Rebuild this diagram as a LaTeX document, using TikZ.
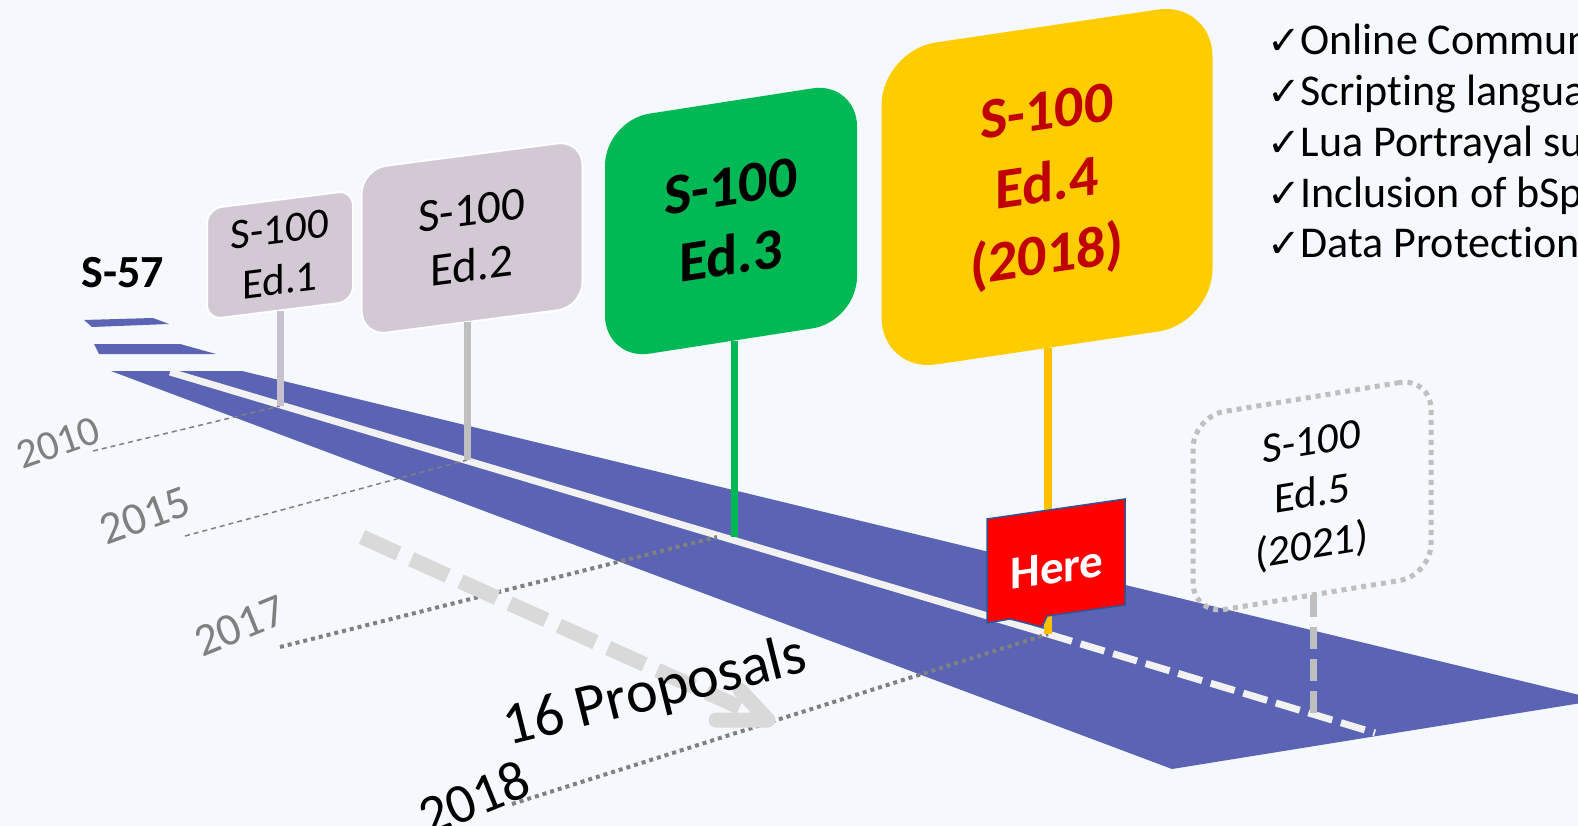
\documentclass[tikz,border=0pt]{standalone}
\usepackage{fontspec}
\usetikzlibrary{calc}
\setmainfont{Carlito}[Ligatures=NoCommon]
\newfontfamily\symfont{DejaVu Sans}
\definecolor{bgc}{RGB}{245,248,252}
\definecolor{roadc}{RGB}{91,99,181}
\definecolor{linec}{RGB}{242,242,242}
\definecolor{signgray}{RGB}{211,201,213}
\definecolor{stemlilac}{RGB}{200,192,204}
\definecolor{stemgray}{RGB}{191,191,191}
\definecolor{edgreen}{RGB}{0,184,84}
\definecolor{edgold}{RGB}{255,204,0}
\definecolor{stemgold}{RGB}{255,192,0}
\definecolor{edred}{RGB}{192,0,0}
\definecolor{yeargray}{RGB}{128,128,128}
\definecolor{arrowgray}{RGB}{217,217,217}
\definecolor{flagred}{RGB}{255,0,0}
\definecolor{flagborder}{RGB}{47,85,151}
\newcommand{\chkmark}{{\symfont\fontsize{40}{51}\selectfont ✓}}
\begin{document}
\begin{tikzpicture}[x=1pt,y=-1pt,
  txt/.style={inner sep=0pt, outer sep=0pt, align=center},
  signbox/.style={txt, transform shape},
  yearlab/.style={txt, text=yeargray},
  checkline/.style={inner sep=0pt, outer sep=0pt, anchor=base west, font=\fontsize{44}{51}\selectfont},
  finedash/.style={draw=yeargray, line width=1.5pt, dash pattern=on 5pt off 4pt},
  dotline/.style={draw=yeargray, line width=4pt, dash pattern=on 4pt off 4pt},
  stemline/.style={line width=7pt},
  roadline/.style={draw=linec, line width=7pt}]
\useasboundingbox (0,0) rectangle (1578,826);
\fill[bgc] (0,0) rectangle (1578,826);
\begin{scope}
\clip (0,0) rectangle (1578,826);
% road
\fill[roadc] (84,320) -- (153,318) -- (169,324) -- (92,327) -- cycle;
\fill[roadc] (94,344) -- (180,344) -- (216,354) -- (99,354) -- cycle;
\fill[roadc] (111,371) -- (242,371) -- (1600,700) -- (1172,769) -- cycle;
% coordinates on the centre line
\coordinate (w0) at (170,372);
\coordinate (b1) at (280,406);
\coordinate (b2) at (467,460);
\coordinate (b3) at (734,537);
\coordinate (b4) at (1048,634);
\coordinate (b5) at (1313,720);
\coordinate (w1) at (1375,733);
\draw[roadline] (w0) -- (b4);
\draw[roadline, dash pattern=on 25pt off 9pt] (b4) -- (w1);
% year labels and lines
\node[yearlab, rotate=19, font=\fontsize{42}{44}\selectfont] (y10) at (58,443) {2010};
\node[yearlab, rotate=20, font=\fontsize{46}{48}\selectfont] (y15) at (145,516) {2015};
\node[yearlab, rotate=22, font=\fontsize{46}{48}\selectfont] (y17) at (240,626) {2017};
\node[txt, rotate=22, font=\fontsize{56}{58}\selectfont] (y18) at (474,798) {2018};
\coordinate (d10) at (93,451);
\coordinate (d15) at (185,536);
\coordinate (d17) at (280,647);
\coordinate (d18) at (512,804);
\coordinate (e17) at (717,537);
\draw[finedash] (d10) -- (b1);
\draw[finedash] (d15) -- (b2);
\draw[dotline] (d17) -- (e17);
\draw[dotline] (d18) -- (b4);
% proposals arrow
\coordinate (ar1) at (362,537);
\coordinate (ar2) at (768,720);
\draw[arrowgray, line width=15pt, dash pattern=on 40pt off 14pt] (ar1) -- ($(ar1)!0.93!(ar2)$);
\draw[arrowgray, line width=15pt, line cap=round, line join=round] (ar2) ++(-52,0) -- (ar2) -- ++(-28,-30);
\node[txt, rotate=14, font=\fontsize{60}{64}\selectfont] (prop) at (655,693) {16 Proposals};
% S-57
\node[txt, font=\fontsize{46}{53}\selectfont\bfseries] (s57) at (123,273) {S-57};
% signs
\node[signbox, fill=signgray, draw=white, line width=2pt, minimum width=146pt, minimum height=111pt,
  rounded corners=15pt, yslant=0.125, font=\fontsize{43}{51}\selectfont] (e1) at (280,255) {S-100\\Ed.1};
\node[signbox, fill=signgray, draw=white, line width=2pt, minimum width=221pt, minimum height=167pt,
  rounded corners=25pt, yslant=0.13, font=\fontsize{47}{56}\selectfont] (e2) at (472,238) {S-100\\Ed.2};
\node[signbox, fill=edgreen, minimum width=252pt, minimum height=240pt,
  rounded corners=45pt, yslant=0.155, font=\fontsize{58}{70}\selectfont\bfseries] (e3) at (731,221) {S-100\\Ed.3};
\node[signbox, fill=edgold, minimum width=331pt, minimum height=322pt, text=edred,
  rounded corners=55pt, yslant=0.148, font=\fontsize{58}{72}\selectfont\bfseries] (e4) at (1047,187) {S-100\\Ed.4\\(2018)};
\node[signbox, draw=stemgray, line width=5pt, dash pattern=on 5pt off 5pt, minimum width=238pt, minimum height=198pt,
  rounded corners=32pt, yslant=0.165, font=\fontsize{43}{52}\selectfont] (e5) at (1312,496) {S-100\\Ed.5\\(2021)};
% stems
\draw[stemline, stemlilac] (e1.south) -- (b1);
\draw[stemline, stemgray] (e2.south -| b2) -- (b2);
\draw[stemline, edgreen] (e3.south -| b3) -- (b3);
\draw[stemline, stemgold, line width=8pt] (e4.south -| b4) -- (b4);
\draw[stemline, stemgray, dash pattern=on 22pt off 10pt] (e5.south -| b5) -- (b5);
% Here flag
\filldraw[fill=flagred, draw=flagborder, line width=1.5pt] (987,519) -- (1125,499) -- (1125,605) -- (1047,616)
  -- (1042,627) -- (1010,619) -- (987,623) -- cycle;
\node[txt, yslant=0.145, text=white, font=\fontsize{47}{50}\selectfont\bfseries] (here) at (1057,568) {Here};
% checklist
\node[checkline] (c1) at (1267,55) {\chkmark Online Commun};
\node[checkline] (c2) at (1267,106) {\chkmark Scripting langua};
\node[checkline] (c3) at (1267,157) {\chkmark Lua Portrayal su};
\node[checkline] (c4) at (1267,208) {\chkmark Inclusion of bSpl};
\node[checkline] (c5) at (1267,258) {\chkmark Data Protection};
\end{scope}
\end{tikzpicture}
\end{document}
